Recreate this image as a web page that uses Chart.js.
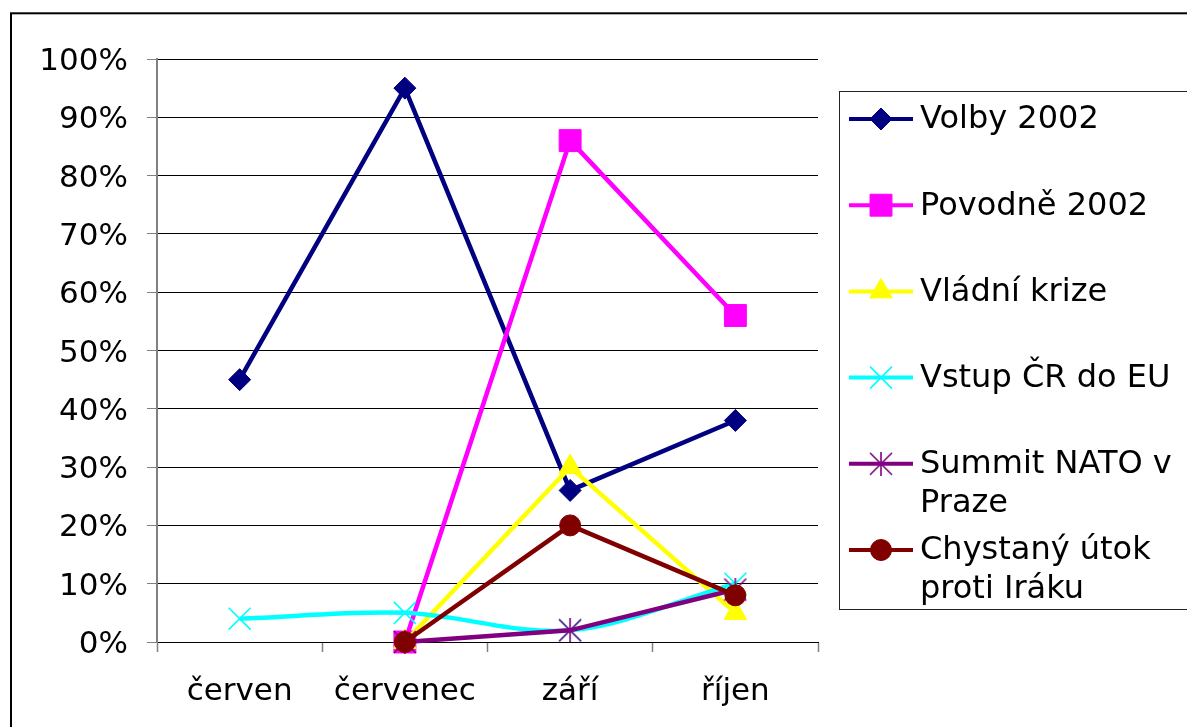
<!DOCTYPE html>
<html><head><meta charset="utf-8">
<script src="https://cdn.jsdelivr.net/npm/chart.js@4/dist/chart.umd.min.js"></script>
<style>html,body{margin:0;padding:0;background:#fff;}canvas{display:block;}</style>
</head><body>
<canvas id="c" width="1187" height="727"></canvas>
<script>
// ---- data ----
const categories = ['červen', 'červenec', 'září', 'říjen'];
const yTickValues = [0, 10, 20, 30, 40, 50, 60, 70, 80, 90, 100];
const seriesNames = ['Volby 2002', 'Povodně 2002', 'Vládní krize', 'Vstup ČR do EU', 'Summit NATO v Praze', 'Chystaný útok proti Iráku'];
const volby2002 = [45, 95, 26, 38];
const povodne2002 = [null, 0, 86, 56];
const vladniKrize = [null, 0, 30, 5];
const vstupEU = [4, 5, 2, 10];
const summitNATO = [null, 0, 2, 9];
const utokIrak = [null, 0, 20, 8];

const FONT = '"DejaVu Sans", Verdana, sans-serif';

function starCanvas(color) {
  const c = document.createElement('canvas');
  c.width = 24; c.height = 24;
  const g = c.getContext('2d');
  g.strokeStyle = color; g.lineWidth = 1.6;
  g.beginPath();
  g.moveTo(1, 1); g.lineTo(23, 23);
  g.moveTo(23, 1); g.lineTo(1, 23);
  g.moveTo(12, 0); g.lineTo(12, 24);
  g.stroke();
  return c;
}

const styles = [
  {color: '#000080', pointStyle: 'rectRot', radius: 11, bw: 1, tension: 0},
  {color: '#FF00FF', pointStyle: 'rect', radius: 15.5, bw: 1, tension: 0},
  {color: '#FFFF00', pointStyle: 'triangle', radius: 13, bw: 1, tension: 0},
  {color: '#00FFFF', pointStyle: 'crossRot', radius: 15.5, bw: 1.6, tension: 0.33},
  {color: '#800080', pointStyle: starCanvas('#800080'), radius: 12, bw: 1.6, tension: 0},
  {color: '#800000', pointStyle: 'circle', radius: 10.5, bw: 1, tension: 0}
];
const seriesData = [volby2002, povodne2002, vladniKrize, vstupEU, summitNATO, utokIrak];

const datasets = seriesData.map((d, i) => ({
  label: seriesNames[i],
  data: d,
  borderColor: styles[i].color,
  backgroundColor: styles[i].color,
  borderWidth: 4.5,
  tension: styles[i].tension,
  pointStyle: styles[i].pointStyle,
  pointRadius: styles[i].radius,
  pointHoverRadius: styles[i].radius,
  pointBorderWidth: styles[i].bw,
  pointBackgroundColor: styles[i].color,
  pointBorderColor: styles[i].color,
  order: seriesData.length - i,
  clip: false,
  spanGaps: false
}));

const frameAndLegend = {
  id: 'frameAndLegend',
  beforeDraw(chart) {
    const ctx = chart.ctx;
    ctx.save();
    ctx.fillStyle = '#fff';
    ctx.fillRect(0, 0, chart.width, chart.height);
    ctx.restore();
  },
  afterDraw(chart) {
    const ctx = chart.ctx;
    ctx.save();
    // outer frame
    ctx.strokeStyle = '#000';
    ctx.lineWidth = 2;
    ctx.strokeRect(11, 13.3, 1210, 740);
    // legend box
    ctx.lineWidth = 1;
    ctx.strokeStyle = '#222';
    ctx.strokeRect(839.5, 91.5, 420, 518);
    ctx.font = '32px ' + FONT;
    ctx.textBaseline = 'middle';
    ctx.textAlign = 'left';
    const maxW = 266;
    chart.data.datasets.forEach((ds, i) => {
      const y = 119 + i * 86.2;
      ctx.strokeStyle = ds.borderColor;
      ctx.lineWidth = 4;
      ctx.beginPath();
      ctx.moveTo(849, y); ctx.lineTo(913, y);
      ctx.stroke();
      ctx.fillStyle = ds.pointBackgroundColor;
      ctx.strokeStyle = ds.pointBorderColor;
      ctx.lineWidth = ds.pointBorderWidth;
      Chart.helpers.drawPoint(ctx, {pointStyle: ds.pointStyle, radius: ds.pointRadius, rotation: 0, borderWidth: ds.pointBorderWidth}, 881, y);
      // wrap text
      const words = ds.label.split(' ');
      const lines = [];
      let cur = '';
      words.forEach(w => {
        const t = cur ? cur + ' ' + w : w;
        if (ctx.measureText(t).width > maxW && cur) { lines.push(cur); cur = w; }
        else cur = t;
      });
      if (cur) lines.push(cur);
      ctx.fillStyle = '#000';
      lines.forEach((ln, k) => ctx.fillText(ln, 920, y + 1 + k * 38.5));
    });
    ctx.restore();
  }
};

new Chart(document.getElementById('c'), {
  type: 'line',
  data: {labels: categories, datasets},
  options: {
    responsive: false,
    animation: false,
    devicePixelRatio: 1,
    layout: {padding: {left: 0, top: 59, right: 369, bottom: 0}},
    plugins: {legend: {display: false}, tooltip: {enabled: false}, title: {display: false}},
    scales: {
      x: {
        type: 'category',
        offset: true,
        grid: {offset: true, drawOnChartArea: false, drawTicks: true, tickLength: 10, tickColor: '#808080', tickWidth: 1.5},
        border: {display: true, color: '#000', width: 1},
        ticks: {font: {family: FONT, size: 31}, color: '#000', padding: 21, maxRotation: 0, autoSkip: false},
        afterFit(s) { s.height = 85; }
      },
      y: {
        min: 0, max: 100,
        afterBuildTicks(s) { s.ticks = yTickValues.map(v => ({value: v})); },
        grid: {color: '#000', lineWidth: 1, tickLength: 10, tickColor: '#808080', drawTicks: true},
        border: {display: true, color: '#808080', width: 2},
        ticks: {font: {family: FONT, size: 31}, color: '#000', padding: 19, labelOffset: 3, callback: v => v + '%'},
        afterFit(s) { s.width = 157; }
      }
    }
  },
  plugins: [frameAndLegend]
});
</script>
</body></html>
